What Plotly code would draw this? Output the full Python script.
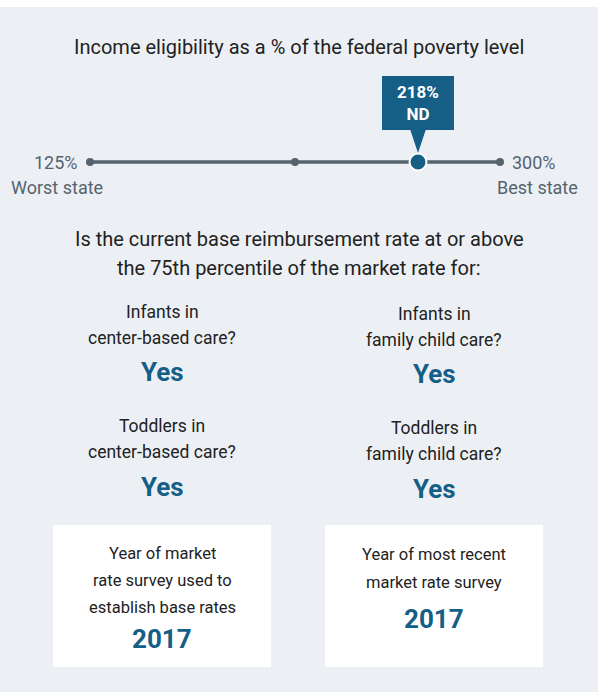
import plotly.graph_objects as go

# scale of income eligibility (% of federal poverty level)
scale_ends = ["125%", "300%"]
scale_names = ["Worst state", "Best state"]
scale_ticks = [0, 0.5, 1]          # worst, median, best along the state ranking
state = "ND"
state_value = "218%"
state_pos = 0.8

# reimbursement rate questions
questions = [
    "Infants in<br>center-based care?",
    "Infants in<br>family child care?",
    "Toddlers in<br>center-based care?",
    "Toddlers in<br>family child care?",
]
answers = ["Yes", "Yes", "Yes", "Yes"]

# market rate survey boxes
survey_labels = [
    "Year of market<br>rate survey used to<br>establish base rates",
    "Year of most recent<br>market rate survey",
]
survey_years = ["2017", "2017"]

FONT = "Roboto, Arial"
DARK = "#222222"
BLUE = "#155e86"
GREY = "#55636d"
BG = "#ecf0f5"

W, H = 598, 692
fig = go.Figure()

# the ranking line
fig.add_trace(go.Scatter(
    x=[scale_ticks[0], scale_ticks[-1]], y=[162, 162], mode="lines",
    line=dict(color=GREY, width=3.5), xaxis="x2", hoverinfo="skip"))
fig.add_trace(go.Scatter(
    x=scale_ticks, y=[162] * len(scale_ticks), mode="markers",
    marker=dict(color=GREY, size=8), xaxis="x2", cliponaxis=False, hoverinfo="skip"))
fig.add_trace(go.Scatter(
    x=[state_pos], y=[162], mode="markers",
    marker=dict(color=BLUE, size=17, line=dict(color="white", width=2)),
    xaxis="x2", cliponaxis=False, hoverinfo="skip"))

shapes = [
    dict(type="rect", xref="x", yref="y", x0=0, x1=W, y0=7, y1=H,
         fillcolor=BG, line_width=0, layer="below"),
    dict(type="rect", xref="x", yref="y", x0=53, x1=271, y0=525, y1=667,
         fillcolor="white", line_width=0, layer="below"),
    dict(type="rect", xref="x", yref="y", x0=325, x1=543, y0=525, y1=667,
         fillcolor="white", line_width=0, layer="below"),
    # callout box and pointer anchored on the state's position
    dict(type="rect", xref="x2", yref="y", xsizemode="pixel", xanchor=state_pos,
         x0=-36, x1=36, y0=76, y1=130, fillcolor=BLUE, line_width=0),
    dict(type="path", xref="x2", yref="y", xsizemode="pixel", xanchor=state_pos,
         path="M -8 129 L 8 129 L 0 153 Z", fillcolor=BLUE, line_width=0),
]

ann = []
def txt(x, y, s, size, color=DARK, bold=False, xanchor="center", xref="x"):
    ann.append(dict(x=x, y=y, xref=xref, yref="y", text=f"<b>{s}</b>" if bold else s,
                    showarrow=False, xanchor=xanchor, yanchor="middle",
                    font=dict(family=FONT, size=size, color=color)))

def lines(x, y, s, size, gap):
    # one annotation per line so the leading matches the original
    for k, part in enumerate(s.split("<br>")):
        txt(x, y + k * gap, part, size)

txt(299, 47, "Income eligibility as a % of the federal poverty level", 20)
txt(state_pos, 103, f"{state_value}<br>{state}", 17, "white", True, xref="x2")
txt(80, 162, scale_ends[0], 18, GREY, xanchor="right")
txt(510, 162, scale_ends[1], 18, GREY, xanchor="left")
txt(57, 187, scale_names[0], 18, GREY)
txt(537, 187, scale_names[1], 18, GREY)
lines(299, 239, "Is the current base reimbursement rate at or above<br>the 75th percentile of the market rate for:", 20, 29)

cols = [162, 434]
rows = [(312, 372), (426, 487)]
offs = [0, 2]
for i, (q, a) in enumerate(zip(questions, answers)):
    c, r = i % 2, i // 2
    lines(cols[c], rows[r][0] + offs[c], q, 17.5, 26)
    txt(cols[c], rows[r][1] + offs[c], a, 26, BLUE, True)

lines(162, 553, survey_labels[0], 16.5, 27)
txt(162, 639, survey_years[0], 26, BLUE, True)
lines(434, 554, survey_labels[1], 16.5, 28)
txt(434, 619, survey_years[1], 26, BLUE, True)

fig.update_layout(
    width=W, height=H, margin=dict(l=0, r=0, t=0, b=0),
    paper_bgcolor="white", plot_bgcolor="rgba(0,0,0,0)", showlegend=False,
    xaxis=dict(range=[0, W], visible=False, fixedrange=True),
    xaxis2=dict(range=[0, 1], domain=[90 / W, 500 / W], anchor="y",
                visible=False, fixedrange=True),
    yaxis=dict(range=[H, 0], visible=False, fixedrange=True),
    shapes=shapes, annotations=ann,
)

fig.write_html("out.html", config={"displayModeBar": False},
               post_script="document.body.style.margin='0';")
